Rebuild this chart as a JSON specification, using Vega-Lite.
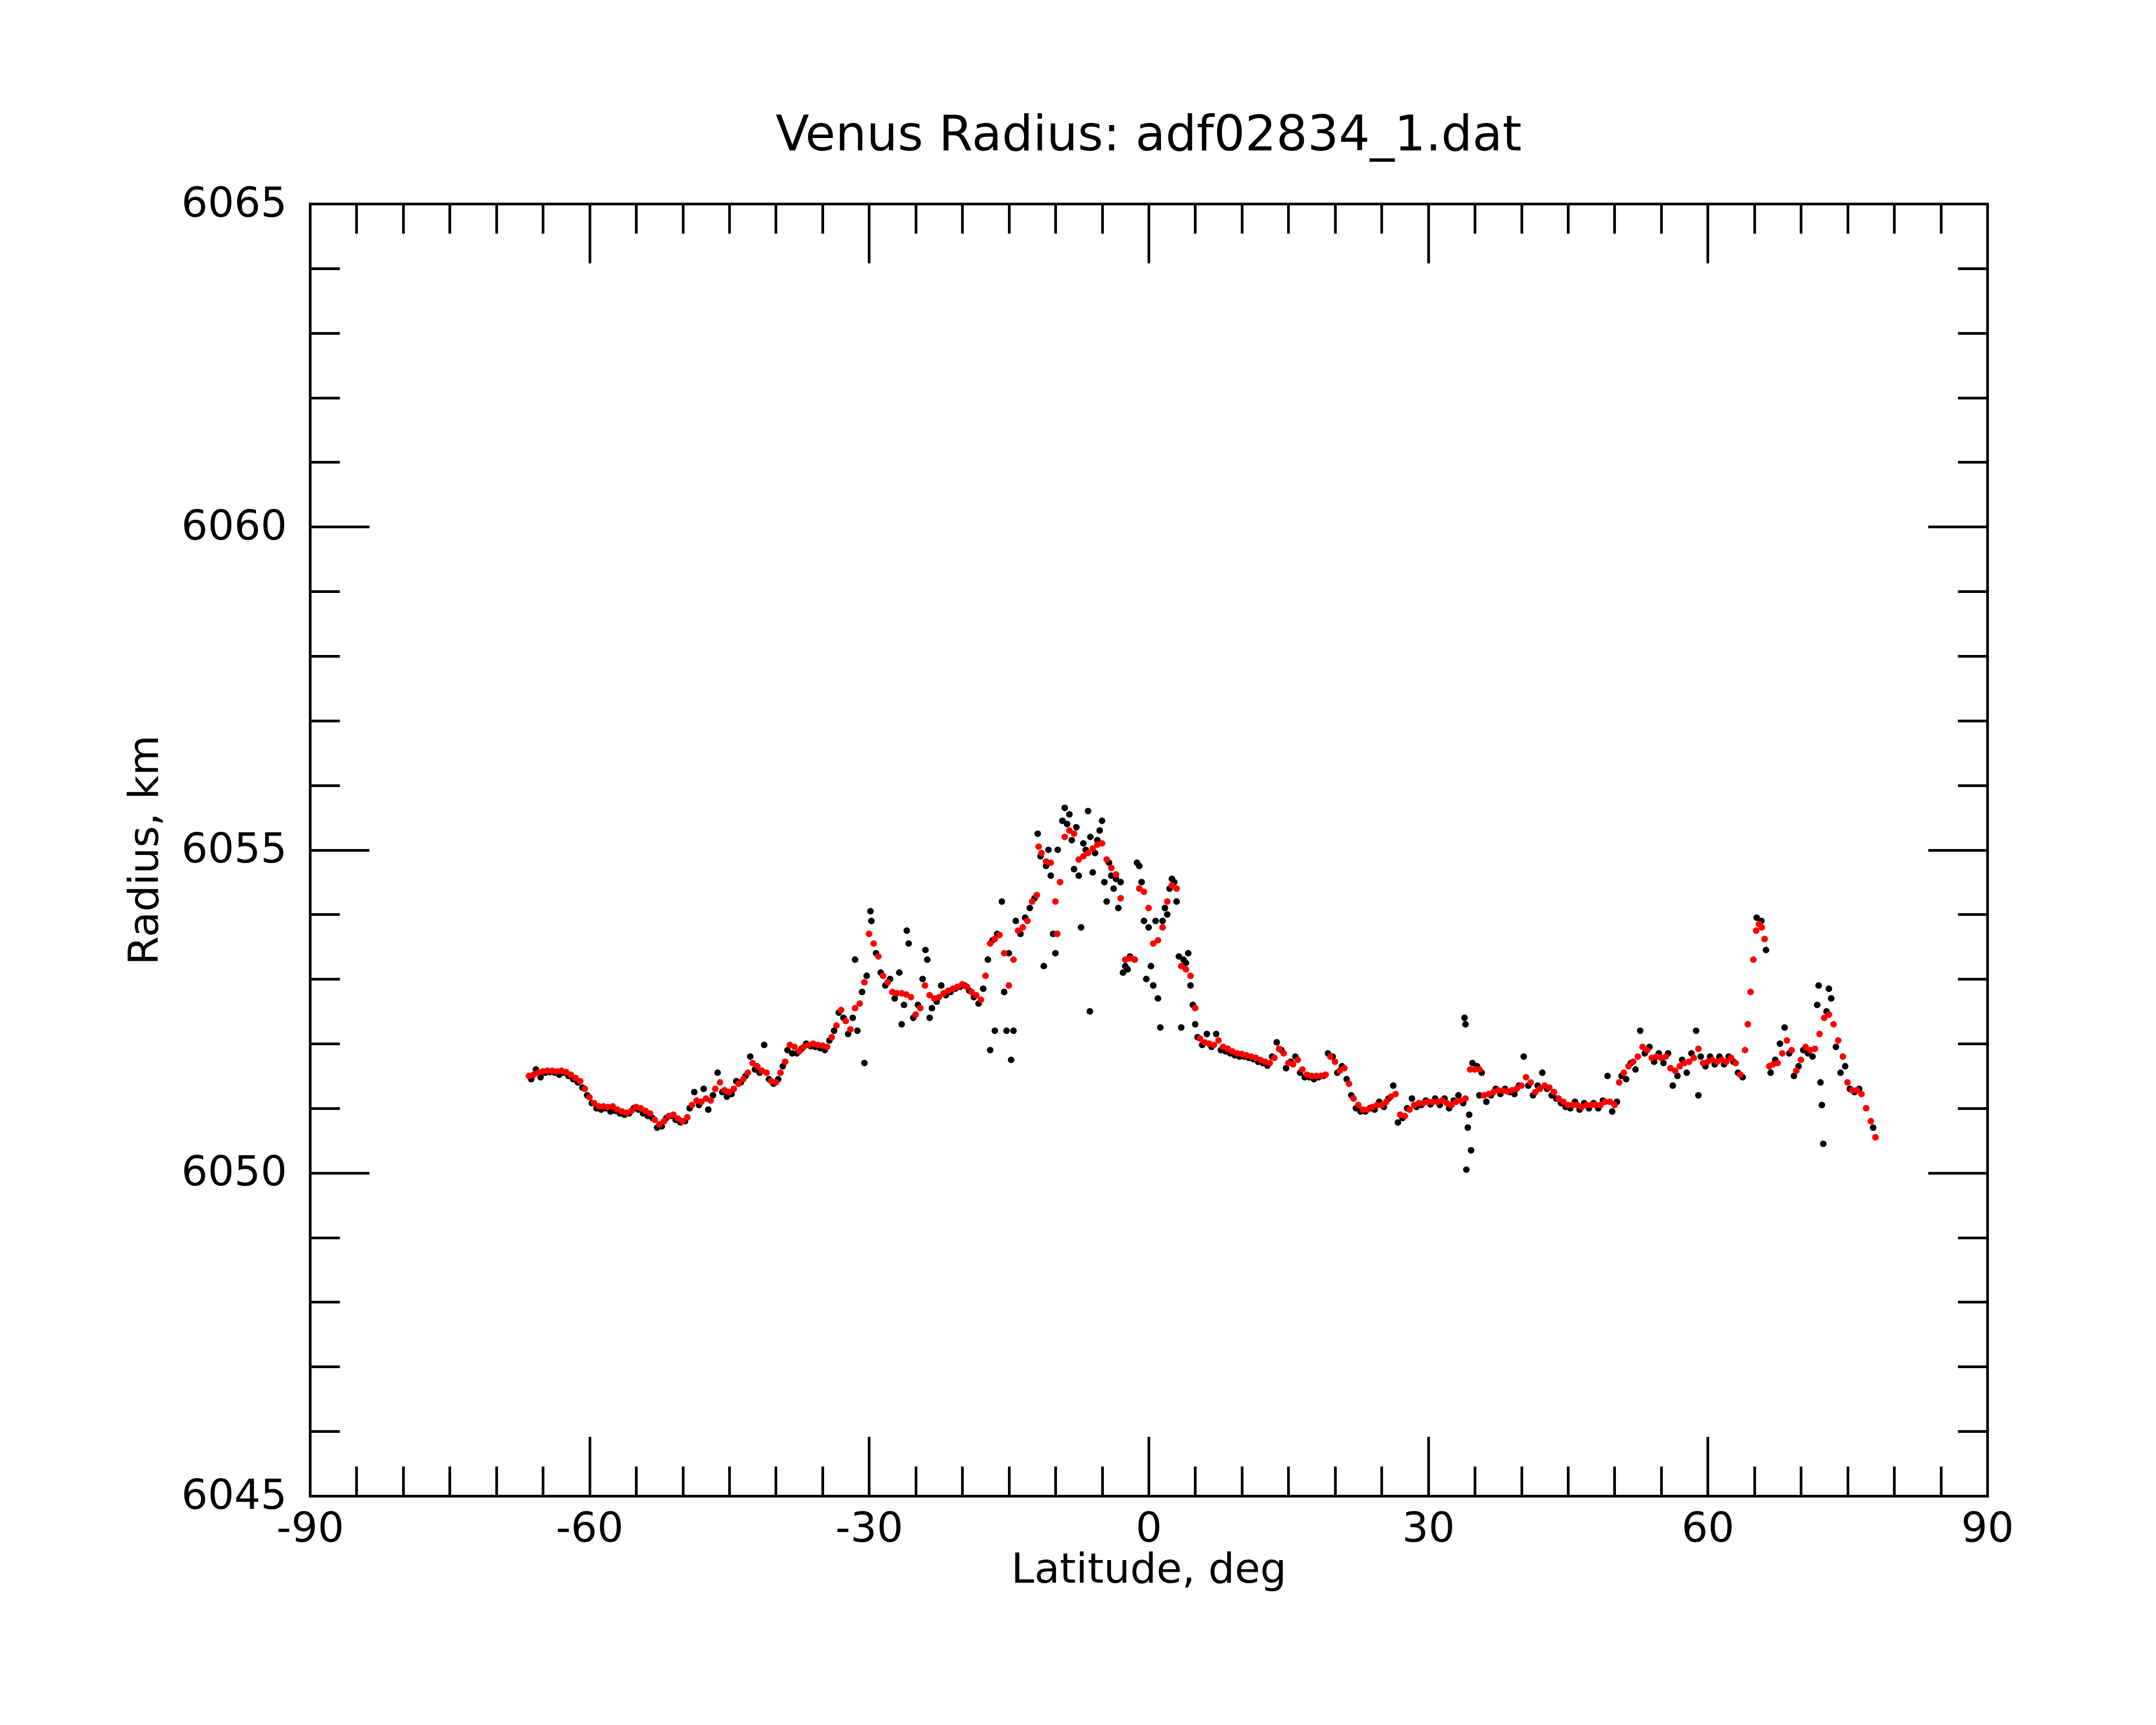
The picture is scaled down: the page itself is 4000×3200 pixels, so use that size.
{
  "$schema": "https://vega.github.io/schema/vega-lite/v6.json",
  "width": 3112,
  "height": 2397,
  "autosize": {"type": "none"},
  "padding": {"left": 575, "top": 378, "right": 313, "bottom": 425},
  "background": "white",
  "title": {
    "text": "Venus Radius: adf02834_1.dat",
    "font": "DejaVu Sans",
    "fontSize": 91,
    "fontWeight": "normal",
    "color": "black",
    "frame": "group",
    "anchor": "middle",
    "baseline": "alphabetic",
    "offset": -31
  },
  "datasets": {
    "raw": [
      {"lat": -66.25, "r": 6051.45}, {"lat": -65.75, "r": 6051.6}, {"lat": -65.25, "r": 6051.48}, {"lat": -64.75, "r": 6051.55},
      {"lat": -64.25, "r": 6051.56}, {"lat": -63.75, "r": 6051.55}, {"lat": -63.25, "r": 6051.52}, {"lat": -62.75, "r": 6051.55},
      {"lat": -62.25, "r": 6051.5}, {"lat": -61.75, "r": 6051.45}, {"lat": -61.25, "r": 6051.4}, {"lat": -60.75, "r": 6051.32},
      {"lat": -60.25, "r": 6051.2}, {"lat": -59.75, "r": 6051.08}, {"lat": -59.25, "r": 6051.0}, {"lat": -58.75, "r": 6050.98},
      {"lat": -58.25, "r": 6051.0}, {"lat": -57.75, "r": 6050.95}, {"lat": -57.25, "r": 6050.96}, {"lat": -56.75, "r": 6050.92},
      {"lat": -56.25, "r": 6050.9}, {"lat": -55.75, "r": 6050.92}, {"lat": -55.25, "r": 6051.0}, {"lat": -54.75, "r": 6050.98},
      {"lat": -54.25, "r": 6050.92}, {"lat": -53.75, "r": 6050.88}, {"lat": -53.25, "r": 6050.85}, {"lat": -52.75, "r": 6050.7},
      {"lat": -52.25, "r": 6050.72}, {"lat": -51.75, "r": 6050.85}, {"lat": -51.25, "r": 6050.88}, {"lat": -50.75, "r": 6050.82},
      {"lat": -50.25, "r": 6050.78}, {"lat": -49.75, "r": 6050.8}, {"lat": -49.25, "r": 6051.0}, {"lat": -48.75, "r": 6051.25},
      {"lat": -48.25, "r": 6051.05}, {"lat": -47.75, "r": 6051.3}, {"lat": -47.25, "r": 6050.98}, {"lat": -46.75, "r": 6051.2},
      {"lat": -46.25, "r": 6051.55}, {"lat": -45.75, "r": 6051.25}, {"lat": -45.25, "r": 6051.18}, {"lat": -44.75, "r": 6051.22},
      {"lat": -44.25, "r": 6051.42}, {"lat": -43.75, "r": 6051.4}, {"lat": -43.25, "r": 6051.5}, {"lat": -42.75, "r": 6051.8},
      {"lat": -42.25, "r": 6051.6}, {"lat": -41.75, "r": 6051.55}, {"lat": -41.25, "r": 6051.98}, {"lat": -40.75, "r": 6051.45},
      {"lat": -40.25, "r": 6051.38}, {"lat": -39.75, "r": 6051.45}, {"lat": -39.25, "r": 6051.65}, {"lat": -38.75, "r": 6051.9},
      {"lat": -38.25, "r": 6051.85}, {"lat": -37.75, "r": 6051.85}, {"lat": -37.25, "r": 6051.92}, {"lat": -36.75, "r": 6052.0},
      {"lat": -36.25, "r": 6051.96}, {"lat": -35.75, "r": 6051.95}, {"lat": -35.25, "r": 6051.93}, {"lat": -34.75, "r": 6051.9},
      {"lat": -34.25, "r": 6052.05}, {"lat": -33.75, "r": 6052.2}, {"lat": -33.25, "r": 6052.48}, {"lat": -32.75, "r": 6052.4},
      {"lat": -32.25, "r": 6052.15}, {"lat": -31.75, "r": 6052.4}, {"lat": -31.5, "r": 6053.3}, {"lat": -31.25, "r": 6052.2},
      {"lat": -30.75, "r": 6052.8}, {"lat": -30.5, "r": 6051.7}, {"lat": -30.25, "r": 6053.05}, {"lat": -29.85, "r": 6054.05},
      {"lat": -29.75, "r": 6053.9}, {"lat": -29.25, "r": 6053.4}, {"lat": -28.75, "r": 6053.1}, {"lat": -28.25, "r": 6052.9},
      {"lat": -27.75, "r": 6053.0}, {"lat": -27.25, "r": 6052.7}, {"lat": -26.75, "r": 6053.1}, {"lat": -26.5, "r": 6052.3},
      {"lat": -26.25, "r": 6052.6}, {"lat": -25.95, "r": 6053.75}, {"lat": -25.75, "r": 6053.55}, {"lat": -25.25, "r": 6052.4},
      {"lat": -24.75, "r": 6052.6}, {"lat": -24.25, "r": 6053.0}, {"lat": -23.95, "r": 6053.45}, {"lat": -23.75, "r": 6053.3},
      {"lat": -23.5, "r": 6052.4}, {"lat": -23.25, "r": 6052.55}, {"lat": -22.75, "r": 6052.65}, {"lat": -22.25, "r": 6052.9},
      {"lat": -21.75, "r": 6052.75}, {"lat": -21.25, "r": 6052.8}, {"lat": -20.75, "r": 6052.85}, {"lat": -20.25, "r": 6052.88},
      {"lat": -19.75, "r": 6052.9}, {"lat": -19.25, "r": 6052.82}, {"lat": -18.75, "r": 6052.72}, {"lat": -18.25, "r": 6052.62},
      {"lat": -17.75, "r": 6052.85}, {"lat": -17.25, "r": 6053.3}, {"lat": -17.0, "r": 6051.9}, {"lat": -16.75, "r": 6053.6},
      {"lat": -16.5, "r": 6052.2}, {"lat": -16.25, "r": 6053.7}, {"lat": -15.75, "r": 6054.2}, {"lat": -15.5, "r": 6052.8},
      {"lat": -15.25, "r": 6052.2}, {"lat": -15.0, "r": 6053.4}, {"lat": -14.75, "r": 6051.75}, {"lat": -14.5, "r": 6052.2},
      {"lat": -14.25, "r": 6053.9}, {"lat": -13.75, "r": 6053.7}, {"lat": -13.25, "r": 6053.95}, {"lat": -12.75, "r": 6054.1},
      {"lat": -12.25, "r": 6054.25}, {"lat": -11.9, "r": 6055.25}, {"lat": -11.6, "r": 6054.9}, {"lat": -11.25, "r": 6053.2},
      {"lat": -11.0, "r": 6054.75}, {"lat": -10.75, "r": 6055.0}, {"lat": -10.5, "r": 6054.6}, {"lat": -10.25, "r": 6053.7},
      {"lat": -10.0, "r": 6053.4}, {"lat": -9.75, "r": 6055.0}, {"lat": -9.25, "r": 6055.45}, {"lat": -9.0, "r": 6055.65},
      {"lat": -8.75, "r": 6055.4}, {"lat": -8.5, "r": 6055.55}, {"lat": -8.25, "r": 6055.15}, {"lat": -8.0, "r": 6054.7},
      {"lat": -7.75, "r": 6055.35}, {"lat": -7.5, "r": 6054.6}, {"lat": -7.25, "r": 6053.8}, {"lat": -7.0, "r": 6055.1},
      {"lat": -6.75, "r": 6055.0}, {"lat": -6.5, "r": 6055.6}, {"lat": -6.3, "r": 6052.5}, {"lat": -6.25, "r": 6055.2},
      {"lat": -6.0, "r": 6054.65}, {"lat": -5.75, "r": 6054.95}, {"lat": -5.5, "r": 6055.15}, {"lat": -5.25, "r": 6055.3},
      {"lat": -5.0, "r": 6055.45}, {"lat": -4.75, "r": 6054.5}, {"lat": -4.5, "r": 6054.2}, {"lat": -4.25, "r": 6054.8},
      {"lat": -4.0, "r": 6054.6}, {"lat": -3.75, "r": 6054.4}, {"lat": -3.5, "r": 6054.55}, {"lat": -3.25, "r": 6054.1},
      {"lat": -3.0, "r": 6054.5}, {"lat": -2.75, "r": 6053.1}, {"lat": -2.5, "r": 6053.2}, {"lat": -2.25, "r": 6053.15},
      {"lat": -2.0, "r": 6053.35}, {"lat": -1.5, "r": 6053.3}, {"lat": -1.25, "r": 6054.8}, {"lat": -1.0, "r": 6054.75},
      {"lat": -0.75, "r": 6054.5}, {"lat": -0.5, "r": 6053.9}, {"lat": -0.25, "r": 6053.0}, {"lat": 0.0, "r": 6053.8},
      {"lat": 0.25, "r": 6053.2}, {"lat": 0.5, "r": 6052.9}, {"lat": 0.75, "r": 6053.9}, {"lat": 1.0, "r": 6052.7},
      {"lat": 1.25, "r": 6052.25}, {"lat": 1.5, "r": 6053.9}, {"lat": 1.75, "r": 6054.1}, {"lat": 2.0, "r": 6054.0},
      {"lat": 2.25, "r": 6054.4}, {"lat": 2.5, "r": 6054.55}, {"lat": 2.75, "r": 6054.5}, {"lat": 3.0, "r": 6054.2},
      {"lat": 3.25, "r": 6053.35}, {"lat": 3.5, "r": 6052.25}, {"lat": 3.75, "r": 6053.3}, {"lat": 4.0, "r": 6053.25},
      {"lat": 4.25, "r": 6053.4}, {"lat": 4.5, "r": 6052.9}, {"lat": 4.75, "r": 6052.6}, {"lat": 5.0, "r": 6052.3},
      {"lat": 5.25, "r": 6052.1}, {"lat": 5.75, "r": 6051.98}, {"lat": 6.25, "r": 6052.15}, {"lat": 6.75, "r": 6051.95},
      {"lat": 7.25, "r": 6052.15}, {"lat": 7.75, "r": 6051.9}, {"lat": 8.25, "r": 6051.88}, {"lat": 8.75, "r": 6051.85},
      {"lat": 9.25, "r": 6051.82}, {"lat": 9.75, "r": 6051.8}, {"lat": 10.25, "r": 6051.8}, {"lat": 10.75, "r": 6051.78},
      {"lat": 11.25, "r": 6051.76}, {"lat": 11.75, "r": 6051.72}, {"lat": 12.25, "r": 6051.7}, {"lat": 12.75, "r": 6051.66},
      {"lat": 13.25, "r": 6051.8}, {"lat": 13.75, "r": 6052.02}, {"lat": 14.25, "r": 6051.9}, {"lat": 14.75, "r": 6051.62},
      {"lat": 15.25, "r": 6051.72}, {"lat": 15.75, "r": 6051.8}, {"lat": 16.25, "r": 6051.55}, {"lat": 16.75, "r": 6051.48},
      {"lat": 17.25, "r": 6051.48}, {"lat": 17.75, "r": 6051.45}, {"lat": 18.25, "r": 6051.48}, {"lat": 18.75, "r": 6051.5},
      {"lat": 19.25, "r": 6051.85}, {"lat": 19.75, "r": 6051.8}, {"lat": 20.25, "r": 6051.55}, {"lat": 20.75, "r": 6051.65},
      {"lat": 21.25, "r": 6051.45}, {"lat": 21.75, "r": 6051.2}, {"lat": 22.25, "r": 6051.0}, {"lat": 22.75, "r": 6050.95},
      {"lat": 23.25, "r": 6050.95}, {"lat": 23.75, "r": 6051.0}, {"lat": 24.25, "r": 6050.98}, {"lat": 24.75, "r": 6051.1},
      {"lat": 25.25, "r": 6051.02}, {"lat": 25.75, "r": 6051.15}, {"lat": 26.25, "r": 6051.35}, {"lat": 26.75, "r": 6050.78},
      {"lat": 27.25, "r": 6050.85}, {"lat": 27.75, "r": 6051.0}, {"lat": 28.25, "r": 6051.15}, {"lat": 28.75, "r": 6051.02},
      {"lat": 29.25, "r": 6051.05}, {"lat": 29.75, "r": 6051.12}, {"lat": 30.25, "r": 6051.06}, {"lat": 30.75, "r": 6051.15},
      {"lat": 31.25, "r": 6051.05}, {"lat": 31.75, "r": 6051.15}, {"lat": 32.25, "r": 6051.0}, {"lat": 32.75, "r": 6051.12},
      {"lat": 33.25, "r": 6051.2}, {"lat": 33.75, "r": 6051.08}, {"lat": 33.9, "r": 6052.4}, {"lat": 34.0, "r": 6052.3},
      {"lat": 34.1, "r": 6050.05}, {"lat": 34.25, "r": 6050.7}, {"lat": 34.4, "r": 6050.9}, {"lat": 34.6, "r": 6050.35},
      {"lat": 34.75, "r": 6051.7}, {"lat": 35.25, "r": 6051.65}, {"lat": 35.5, "r": 6051.2}, {"lat": 35.75, "r": 6051.55},
      {"lat": 36.25, "r": 6051.1}, {"lat": 36.75, "r": 6051.2}, {"lat": 37.25, "r": 6051.3}, {"lat": 37.75, "r": 6051.22},
      {"lat": 38.25, "r": 6051.3}, {"lat": 38.75, "r": 6051.25}, {"lat": 39.25, "r": 6051.22}, {"lat": 39.75, "r": 6051.35},
      {"lat": 40.25, "r": 6051.8}, {"lat": 40.75, "r": 6051.35}, {"lat": 41.25, "r": 6051.2}, {"lat": 41.75, "r": 6051.35},
      {"lat": 42.25, "r": 6051.55}, {"lat": 42.75, "r": 6051.3}, {"lat": 43.25, "r": 6051.2}, {"lat": 43.75, "r": 6051.15},
      {"lat": 44.25, "r": 6051.08}, {"lat": 44.75, "r": 6051.02}, {"lat": 45.25, "r": 6051.0}, {"lat": 45.75, "r": 6051.1},
      {"lat": 46.25, "r": 6050.98}, {"lat": 46.75, "r": 6051.08}, {"lat": 47.25, "r": 6051.0}, {"lat": 47.75, "r": 6051.08},
      {"lat": 48.25, "r": 6051.0}, {"lat": 48.75, "r": 6051.12}, {"lat": 49.25, "r": 6051.5}, {"lat": 49.75, "r": 6050.95},
      {"lat": 50.25, "r": 6051.1}, {"lat": 50.75, "r": 6051.5}, {"lat": 51.25, "r": 6051.45}, {"lat": 51.75, "r": 6051.7},
      {"lat": 52.25, "r": 6051.6}, {"lat": 52.75, "r": 6052.2}, {"lat": 53.25, "r": 6051.85}, {"lat": 53.75, "r": 6051.95},
      {"lat": 54.25, "r": 6051.72}, {"lat": 54.75, "r": 6051.85}, {"lat": 55.25, "r": 6051.7}, {"lat": 55.75, "r": 6051.85},
      {"lat": 56.25, "r": 6051.35}, {"lat": 56.75, "r": 6051.5}, {"lat": 57.25, "r": 6051.75}, {"lat": 57.75, "r": 6051.55},
      {"lat": 58.25, "r": 6051.85}, {"lat": 58.75, "r": 6052.2}, {"lat": 59.0, "r": 6051.2}, {"lat": 59.25, "r": 6051.8},
      {"lat": 59.75, "r": 6051.65}, {"lat": 60.25, "r": 6051.8}, {"lat": 60.75, "r": 6051.68}, {"lat": 61.25, "r": 6051.8},
      {"lat": 61.75, "r": 6051.68}, {"lat": 62.25, "r": 6051.8}, {"lat": 62.75, "r": 6051.72}, {"lat": 63.25, "r": 6051.55},
      {"lat": 63.75, "r": 6051.48}, {"lat": 65.25, "r": 6053.95}, {"lat": 65.75, "r": 6053.9}, {"lat": 66.25, "r": 6053.45},
      {"lat": 66.75, "r": 6051.55}, {"lat": 67.25, "r": 6051.75}, {"lat": 67.75, "r": 6052.0}, {"lat": 68.25, "r": 6052.25},
      {"lat": 68.75, "r": 6051.85}, {"lat": 69.25, "r": 6051.5}, {"lat": 69.75, "r": 6051.65}, {"lat": 70.25, "r": 6051.9},
      {"lat": 70.75, "r": 6051.85}, {"lat": 71.25, "r": 6051.8}, {"lat": 71.75, "r": 6052.6}, {"lat": 71.9, "r": 6052.9},
      {"lat": 72.1, "r": 6051.4}, {"lat": 72.25, "r": 6051.05}, {"lat": 72.4, "r": 6050.45}, {"lat": 72.75, "r": 6052.5},
      {"lat": 73.0, "r": 6052.85}, {"lat": 73.25, "r": 6052.7}, {"lat": 73.75, "r": 6051.95}, {"lat": 74.25, "r": 6051.55},
      {"lat": 74.75, "r": 6051.65}, {"lat": 75.25, "r": 6051.3}, {"lat": 75.75, "r": 6051.25}, {"lat": 76.25, "r": 6051.3},
      {"lat": 77.75, "r": 6050.7}
    ],
    "fit": [
      {"lat": -66.5, "r": 6051.5}, {"lat": -66.0, "r": 6051.52}, {"lat": -65.5, "r": 6051.55}, {"lat": -65.0, "r": 6051.57},
      {"lat": -64.5, "r": 6051.58}, {"lat": -64.0, "r": 6051.58}, {"lat": -63.5, "r": 6051.57}, {"lat": -63.0, "r": 6051.58},
      {"lat": -62.5, "r": 6051.56}, {"lat": -62.0, "r": 6051.52}, {"lat": -61.5, "r": 6051.47}, {"lat": -61.0, "r": 6051.42},
      {"lat": -60.5, "r": 6051.3}, {"lat": -60.0, "r": 6051.17}, {"lat": -59.5, "r": 6051.08}, {"lat": -59.0, "r": 6051.03},
      {"lat": -58.5, "r": 6051.03}, {"lat": -58.0, "r": 6051.02}, {"lat": -57.5, "r": 6051.03}, {"lat": -57.0, "r": 6050.98},
      {"lat": -56.5, "r": 6050.95}, {"lat": -56.0, "r": 6050.93}, {"lat": -55.5, "r": 6050.96}, {"lat": -55.0, "r": 6051.02},
      {"lat": -54.5, "r": 6051.0}, {"lat": -54.0, "r": 6050.96}, {"lat": -53.5, "r": 6050.92}, {"lat": -53.0, "r": 6050.82},
      {"lat": -52.5, "r": 6050.75}, {"lat": -52.0, "r": 6050.8}, {"lat": -51.5, "r": 6050.88}, {"lat": -51.0, "r": 6050.9},
      {"lat": -50.5, "r": 6050.84}, {"lat": -50.0, "r": 6050.8}, {"lat": -49.5, "r": 6050.86}, {"lat": -49.0, "r": 6051.05},
      {"lat": -48.5, "r": 6051.12}, {"lat": -48.0, "r": 6051.1}, {"lat": -47.5, "r": 6051.15}, {"lat": -47.0, "r": 6051.12},
      {"lat": -46.5, "r": 6051.3}, {"lat": -46.0, "r": 6051.4}, {"lat": -45.5, "r": 6051.28}, {"lat": -45.0, "r": 6051.25},
      {"lat": -44.5, "r": 6051.3}, {"lat": -44.0, "r": 6051.38}, {"lat": -43.5, "r": 6051.45}, {"lat": -43.0, "r": 6051.55},
      {"lat": -42.5, "r": 6051.7}, {"lat": -42.0, "r": 6051.65}, {"lat": -41.5, "r": 6051.58}, {"lat": -41.0, "r": 6051.55},
      {"lat": -40.5, "r": 6051.42}, {"lat": -40.0, "r": 6051.4}, {"lat": -39.5, "r": 6051.55}, {"lat": -39.0, "r": 6051.72},
      {"lat": -38.5, "r": 6051.98}, {"lat": -38.0, "r": 6051.95}, {"lat": -37.5, "r": 6051.88}, {"lat": -37.0, "r": 6051.95},
      {"lat": -36.5, "r": 6051.98}, {"lat": -36.0, "r": 6052.0}, {"lat": -35.5, "r": 6051.98}, {"lat": -35.0, "r": 6051.97},
      {"lat": -34.5, "r": 6051.95}, {"lat": -34.0, "r": 6052.1}, {"lat": -33.5, "r": 6052.28}, {"lat": -33.0, "r": 6052.52},
      {"lat": -32.5, "r": 6052.35}, {"lat": -32.0, "r": 6052.22}, {"lat": -31.5, "r": 6052.55}, {"lat": -31.0, "r": 6052.62},
      {"lat": -30.5, "r": 6052.95}, {"lat": -30.0, "r": 6053.7}, {"lat": -29.5, "r": 6053.55}, {"lat": -29.0, "r": 6053.35},
      {"lat": -28.5, "r": 6053.05}, {"lat": -28.0, "r": 6052.95}, {"lat": -27.5, "r": 6052.8}, {"lat": -27.0, "r": 6052.78},
      {"lat": -26.5, "r": 6052.78}, {"lat": -26.0, "r": 6052.76}, {"lat": -25.5, "r": 6052.72}, {"lat": -25.0, "r": 6052.45},
      {"lat": -24.5, "r": 6052.55}, {"lat": -24.0, "r": 6052.9}, {"lat": -23.5, "r": 6052.75}, {"lat": -23.0, "r": 6052.7},
      {"lat": -22.5, "r": 6052.72}, {"lat": -22.0, "r": 6052.78}, {"lat": -21.5, "r": 6052.82}, {"lat": -21.0, "r": 6052.85},
      {"lat": -20.5, "r": 6052.88}, {"lat": -20.0, "r": 6052.92}, {"lat": -19.5, "r": 6052.88}, {"lat": -19.0, "r": 6052.8},
      {"lat": -18.5, "r": 6052.75}, {"lat": -18.0, "r": 6052.68}, {"lat": -17.5, "r": 6053.05}, {"lat": -17.0, "r": 6053.55},
      {"lat": -16.5, "r": 6053.62}, {"lat": -16.0, "r": 6053.68}, {"lat": -15.5, "r": 6053.4}, {"lat": -15.0, "r": 6052.9},
      {"lat": -14.5, "r": 6053.3}, {"lat": -14.0, "r": 6053.75}, {"lat": -13.5, "r": 6053.8}, {"lat": -13.0, "r": 6053.9},
      {"lat": -12.5, "r": 6054.2}, {"lat": -12.0, "r": 6054.3}, {"lat": -11.8, "r": 6055.05}, {"lat": -11.5, "r": 6054.95},
      {"lat": -11.0, "r": 6054.82}, {"lat": -10.5, "r": 6054.8}, {"lat": -10.0, "r": 6054.2}, {"lat": -9.8, "r": 6053.7},
      {"lat": -9.5, "r": 6054.5}, {"lat": -9.0, "r": 6055.2}, {"lat": -8.5, "r": 6055.3}, {"lat": -8.0, "r": 6055.25},
      {"lat": -7.5, "r": 6054.85}, {"lat": -7.0, "r": 6054.9}, {"lat": -6.5, "r": 6054.95}, {"lat": -6.0, "r": 6055.02},
      {"lat": -5.5, "r": 6055.08}, {"lat": -5.0, "r": 6055.1}, {"lat": -4.5, "r": 6054.85}, {"lat": -4.0, "r": 6054.72},
      {"lat": -3.5, "r": 6054.62}, {"lat": -3.0, "r": 6054.25}, {"lat": -2.5, "r": 6053.3}, {"lat": -2.0, "r": 6053.32},
      {"lat": -1.5, "r": 6053.3}, {"lat": -1.0, "r": 6054.4}, {"lat": -0.5, "r": 6054.35}, {"lat": 0.0, "r": 6054.1},
      {"lat": 0.5, "r": 6053.55}, {"lat": 1.0, "r": 6053.6}, {"lat": 1.5, "r": 6053.8}, {"lat": 2.0, "r": 6054.2},
      {"lat": 2.5, "r": 6054.45}, {"lat": 3.0, "r": 6054.4}, {"lat": 3.5, "r": 6053.2}, {"lat": 4.0, "r": 6053.15},
      {"lat": 4.5, "r": 6053.05}, {"lat": 5.0, "r": 6052.55}, {"lat": 5.5, "r": 6052.08}, {"lat": 6.0, "r": 6052.02},
      {"lat": 6.5, "r": 6052.0}, {"lat": 7.0, "r": 6051.98}, {"lat": 7.5, "r": 6052.05}, {"lat": 8.0, "r": 6051.95},
      {"lat": 8.5, "r": 6051.92}, {"lat": 9.0, "r": 6051.88}, {"lat": 9.5, "r": 6051.85}, {"lat": 10.0, "r": 6051.84},
      {"lat": 10.5, "r": 6051.82}, {"lat": 11.0, "r": 6051.8}, {"lat": 11.5, "r": 6051.78}, {"lat": 12.0, "r": 6051.75},
      {"lat": 12.5, "r": 6051.72}, {"lat": 13.0, "r": 6051.7}, {"lat": 13.5, "r": 6051.78}, {"lat": 14.0, "r": 6051.92},
      {"lat": 14.5, "r": 6051.85}, {"lat": 15.0, "r": 6051.7}, {"lat": 15.5, "r": 6051.68}, {"lat": 16.0, "r": 6051.75},
      {"lat": 16.5, "r": 6051.6}, {"lat": 17.0, "r": 6051.52}, {"lat": 17.5, "r": 6051.5}, {"lat": 18.0, "r": 6051.5},
      {"lat": 18.5, "r": 6051.5}, {"lat": 19.0, "r": 6051.52}, {"lat": 19.5, "r": 6051.8}, {"lat": 20.0, "r": 6051.72},
      {"lat": 20.5, "r": 6051.58}, {"lat": 21.0, "r": 6051.62}, {"lat": 21.5, "r": 6051.38}, {"lat": 22.0, "r": 6051.15},
      {"lat": 22.5, "r": 6051.05}, {"lat": 23.0, "r": 6050.98}, {"lat": 23.5, "r": 6050.98}, {"lat": 24.0, "r": 6051.02},
      {"lat": 24.5, "r": 6051.05}, {"lat": 25.0, "r": 6051.05}, {"lat": 25.5, "r": 6051.1}, {"lat": 26.0, "r": 6051.18},
      {"lat": 26.5, "r": 6051.22}, {"lat": 27.0, "r": 6050.9}, {"lat": 27.5, "r": 6050.88}, {"lat": 28.0, "r": 6050.98},
      {"lat": 28.5, "r": 6051.05}, {"lat": 29.0, "r": 6051.08}, {"lat": 29.5, "r": 6051.08}, {"lat": 30.0, "r": 6051.1},
      {"lat": 30.5, "r": 6051.1}, {"lat": 31.0, "r": 6051.1}, {"lat": 31.5, "r": 6051.12}, {"lat": 32.0, "r": 6051.08},
      {"lat": 32.5, "r": 6051.05}, {"lat": 33.0, "r": 6051.1}, {"lat": 33.5, "r": 6051.12}, {"lat": 34.0, "r": 6051.15},
      {"lat": 34.5, "r": 6051.6}, {"lat": 35.0, "r": 6051.6}, {"lat": 35.5, "r": 6051.6}, {"lat": 36.0, "r": 6051.2},
      {"lat": 36.5, "r": 6051.22}, {"lat": 37.0, "r": 6051.25}, {"lat": 37.5, "r": 6051.28}, {"lat": 38.0, "r": 6051.27},
      {"lat": 38.5, "r": 6051.26}, {"lat": 39.0, "r": 6051.28}, {"lat": 39.5, "r": 6051.3}, {"lat": 40.0, "r": 6051.35},
      {"lat": 40.5, "r": 6051.48}, {"lat": 41.0, "r": 6051.4}, {"lat": 41.5, "r": 6051.25}, {"lat": 42.0, "r": 6051.3},
      {"lat": 42.5, "r": 6051.35}, {"lat": 43.0, "r": 6051.32}, {"lat": 43.5, "r": 6051.25}, {"lat": 44.0, "r": 6051.15},
      {"lat": 44.5, "r": 6051.1}, {"lat": 45.0, "r": 6051.05}, {"lat": 45.5, "r": 6051.05}, {"lat": 46.0, "r": 6051.05},
      {"lat": 46.5, "r": 6051.02}, {"lat": 47.0, "r": 6051.05}, {"lat": 47.5, "r": 6051.05}, {"lat": 48.0, "r": 6051.05},
      {"lat": 48.5, "r": 6051.05}, {"lat": 49.0, "r": 6051.1}, {"lat": 49.5, "r": 6051.1}, {"lat": 50.0, "r": 6051.05},
      {"lat": 50.5, "r": 6051.4}, {"lat": 51.0, "r": 6051.55}, {"lat": 51.5, "r": 6051.65}, {"lat": 52.0, "r": 6051.72},
      {"lat": 52.5, "r": 6051.8}, {"lat": 53.0, "r": 6051.95}, {"lat": 53.5, "r": 6051.9}, {"lat": 54.0, "r": 6051.78},
      {"lat": 54.5, "r": 6051.8}, {"lat": 55.0, "r": 6051.78}, {"lat": 55.5, "r": 6051.8}, {"lat": 56.0, "r": 6051.62},
      {"lat": 56.5, "r": 6051.58}, {"lat": 57.0, "r": 6051.65}, {"lat": 57.5, "r": 6051.7}, {"lat": 58.0, "r": 6051.72},
      {"lat": 58.5, "r": 6051.78}, {"lat": 59.0, "r": 6051.92}, {"lat": 59.5, "r": 6051.7}, {"lat": 60.0, "r": 6051.72},
      {"lat": 60.5, "r": 6051.75}, {"lat": 61.0, "r": 6051.72}, {"lat": 61.5, "r": 6051.75}, {"lat": 62.0, "r": 6051.72},
      {"lat": 62.5, "r": 6051.78}, {"lat": 63.0, "r": 6051.7}, {"lat": 63.5, "r": 6051.52}, {"lat": 64.0, "r": 6051.9},
      {"lat": 64.3, "r": 6052.3}, {"lat": 64.6, "r": 6052.8}, {"lat": 64.9, "r": 6053.3}, {"lat": 65.2, "r": 6053.75},
      {"lat": 65.5, "r": 6053.85}, {"lat": 65.8, "r": 6053.8}, {"lat": 66.1, "r": 6053.62}, {"lat": 66.6, "r": 6051.65},
      {"lat": 67.0, "r": 6051.68}, {"lat": 67.5, "r": 6051.7}, {"lat": 68.0, "r": 6051.85}, {"lat": 68.5, "r": 6052.05},
      {"lat": 69.0, "r": 6051.9}, {"lat": 69.5, "r": 6051.58}, {"lat": 70.0, "r": 6051.75}, {"lat": 70.5, "r": 6051.95},
      {"lat": 71.0, "r": 6051.9}, {"lat": 71.5, "r": 6051.92}, {"lat": 72.0, "r": 6052.15}, {"lat": 72.5, "r": 6052.4},
      {"lat": 73.0, "r": 6052.45}, {"lat": 73.5, "r": 6052.3}, {"lat": 74.0, "r": 6052.05}, {"lat": 74.5, "r": 6051.8},
      {"lat": 75.0, "r": 6051.4}, {"lat": 75.5, "r": 6051.28}, {"lat": 76.0, "r": 6051.28}, {"lat": 76.5, "r": 6051.22},
      {"lat": 77.0, "r": 6051.0}, {"lat": 77.5, "r": 6050.8}, {"lat": 78.0, "r": 6050.55}
    ]
  },
  "layer": [
    {
      "data": {"name": "raw"},
      "mark": {"type": "circle", "size": 150, "color": "black", "opacity": 1},
      "encoding": {
        "x": {
          "field": "lat",
          "type": "quantitative",
          "scale": {"domain": [-90, 90], "nice": false, "zero": false},
          "axis": {
            "orient": "bottom",
            "title": "Latitude, deg",
            "titleX": 1556,
            "titleY": 160,
            "titleAlign": "center",
            "titleBaseline": "alphabetic",
            "values": [-90, -85, -80, -75, -70, -65, -60, -55, -50, -45, -40, -35, -30, -25, -20, -15, -10, -5, 0, 5, 10, 15, 20, 25, 30, 35, 40, 45, 50, 55, 60, 65, 70, 75, 80, 85, 90],
            "tickSize": {"condition": {"test": "datum.value % 30 === 0", "value": -110}, "value": -55},
            "labelExpr": "datum.value % 30 === 0 ? '' + datum.value : ''",
            "labelPadding": 133,
            "labelLimit": 0,
            "labelFlush": false,
            "labelOverlap": false
          }
        },
        "y": {
          "field": "r",
          "type": "quantitative",
          "scale": {"domain": [6045, 6065], "nice": false, "zero": false},
          "axis": {
            "orient": "left",
            "title": "Radius, km",
            "titleX": -283,
            "titleY": 1198.5,
            "titleAngle": -90,
            "titleAlign": "center",
            "titleBaseline": "alphabetic",
            "values": [6045, 6046, 6047, 6048, 6049, 6050, 6051, 6052, 6053, 6054, 6055, 6056, 6057, 6058, 6059, 6060, 6061, 6062, 6063, 6064, 6065],
            "tickSize": {"condition": {"test": "datum.value % 5 === 0", "value": -110}, "value": -55},
            "labelExpr": "datum.value % 5 === 0 ? '' + datum.value : ''",
            "labelPadding": 153,
            "labelLimit": 0,
            "labelFlush": false,
            "labelOverlap": false
          }
        }
      }
    },
    {
      "data": {"name": "fit"},
      "mark": {"type": "circle", "size": 150, "color": "#ff0000", "opacity": 1},
      "encoding": {
        "x": {
          "field": "lat",
          "type": "quantitative",
          "axis": {
            "orient": "top",
            "title": null,
            "labels": false,
            "values": [-90, -85, -80, -75, -70, -65, -60, -55, -50, -45, -40, -35, -30, -25, -20, -15, -10, -5, 0, 5, 10, 15, 20, 25, 30, 35, 40, 45, 50, 55, 60, 65, 70, 75, 80, 85, 90],
            "tickSize": {"condition": {"test": "datum.value % 30 === 0", "value": -110}, "value": -55}
          }
        },
        "y": {
          "field": "r",
          "type": "quantitative",
          "axis": {
            "orient": "right",
            "title": null,
            "labels": false,
            "values": [6045, 6046, 6047, 6048, 6049, 6050, 6051, 6052, 6053, 6054, 6055, 6056, 6057, 6058, 6059, 6060, 6061, 6062, 6063, 6064, 6065],
            "tickSize": {"condition": {"test": "datum.value % 5 === 0", "value": -110}, "value": -55}
          }
        }
      }
    }
  ],
  "resolve": {"axis": {"x": "independent", "y": "independent"}},
  "config": {
    "view": {"stroke": null},
    "font": "DejaVu Sans",
    "axis": {
      "grid": false,
      "domainColor": "black",
      "domainWidth": 5,
      "domainCap": "square",
      "tickColor": "black",
      "tickWidth": 5,
      "labelFont": "DejaVu Sans",
      "labelFontSize": 77,
      "labelColor": "black",
      "titleFont": "DejaVu Sans",
      "titleFontSize": 77,
      "titleFontWeight": "normal",
      "titleColor": "black"
    }
  }
}
